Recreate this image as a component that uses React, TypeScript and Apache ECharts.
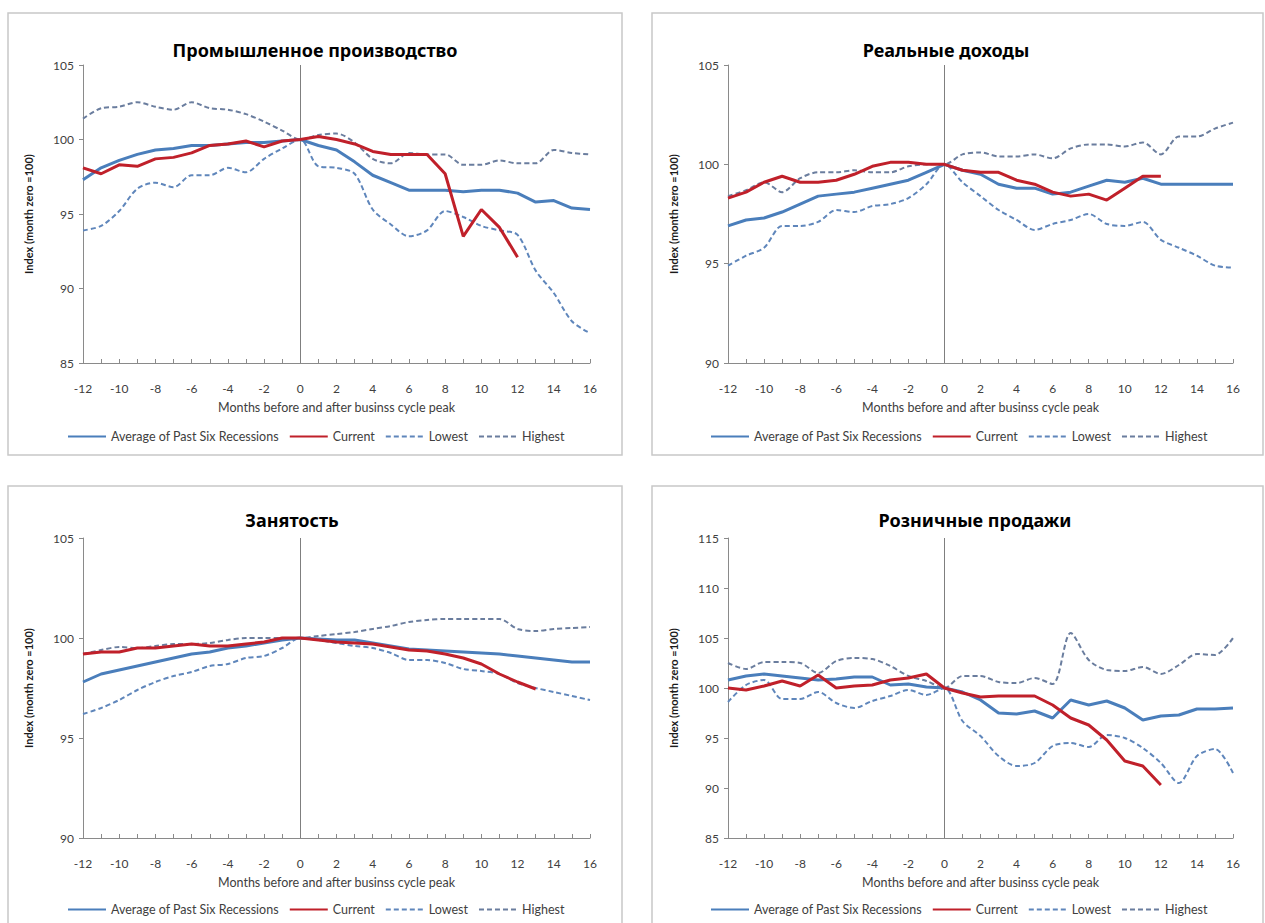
import React, { useEffect, useRef } from "react";
import * as echarts from "echarts";

// ---- Data ----
const months = [-12, -11, -10, -9, -8, -7, -6, -5, -4, -3, -2, -1, 0, 1, 2, 3, 4, 5, 6, 7, 8, 9, 10, 11, 12, 13, 14, 15, 16];
const seriesNames = ["Average of Past Six Recessions", "Current", "Lowest", "Highest"];
const xTicks = { min: -12, max: 16, step: 2 };
const xAxisName = "Months before and after businss cycle peak";
const yAxisName = "Index (month zero =100)";

// Промышленное производство
const ipAvg = [97.3, 98.1, 98.6, 99.0, 99.3, 99.4, 99.6, 99.6, 99.7, 99.8, 99.8, 99.9, 100, 99.6, 99.3, 98.5, 97.6, 97.1, 96.6, 96.6, 96.6, 96.5, 96.6, 96.6, 96.4, 95.8, 95.9, 95.4, 95.3];
const ipCur = [98.1, 97.7, 98.3, 98.2, 98.7, 98.8, 99.1, 99.6, 99.7, 99.9, 99.5, 99.9, 100, 100.2, 100.0, 99.7, 99.2, 99.0, 99.0, 99.0, 97.7, 93.5, 95.3, 94.1, 92.1];
const ipLow = [93.9, 94.2, 95.2, 96.7, 97.1, 96.8, 97.6, 97.6, 98.1, 97.8, 98.7, 99.4, 100, 98.2, 98.1, 97.7, 95.3, 94.3, 93.5, 93.9, 95.2, 94.8, 94.2, 93.9, 93.6, 91.2, 89.7, 87.8, 87.0];
const ipHigh = [101.4, 102.1, 102.2, 102.5, 102.2, 102.0, 102.5, 102.1, 102.0, 101.7, 101.2, 100.6, 100, 100.3, 100.4, 99.8, 98.7, 98.4, 99.1, 99.0, 99.0, 98.3, 98.3, 98.6, 98.4, 98.4, 99.3, 99.1, 99.0];

// Реальные доходы
const incAvg = [96.9, 97.2, 97.3, 97.6, 98.0, 98.4, 98.5, 98.6, 98.8, 99.0, 99.2, 99.6, 100, 99.7, 99.5, 99.0, 98.8, 98.8, 98.5, 98.6, 98.9, 99.2, 99.1, 99.3, 99.0, 99.0, 99.0, 99.0, 99.0];
const incCur = [98.3, 98.6, 99.1, 99.4, 99.1, 99.1, 99.2, 99.5, 99.9, 100.1, 100.1, 100.0, 100, 99.7, 99.6, 99.6, 99.2, 99.0, 98.6, 98.4, 98.5, 98.2, 98.8, 99.4, 99.4];
const incLow = [94.9, 95.4, 95.8, 96.9, 96.9, 97.1, 97.7, 97.6, 97.9, 98.0, 98.3, 99.0, 100, 99.1, 98.4, 97.7, 97.2, 96.7, 97.0, 97.2, 97.5, 97.0, 96.9, 97.1, 96.2, 95.8, 95.4, 94.9, 94.8];
const incHigh = [98.4, 98.7, 99.1, 98.6, 99.3, 99.6, 99.6, 99.7, 99.6, 99.6, 99.9, 100.0, 100, 100.5, 100.6, 100.4, 100.4, 100.5, 100.3, 100.8, 101.0, 101.0, 100.9, 101.1, 100.5, 101.4, 101.4, 101.8, 102.1];

// Занятость
const empAvg = [97.8, 98.2, 98.4, 98.6, 98.8, 99.0, 99.2, 99.3, 99.5, 99.6, 99.75, 99.9, 100, 99.95, 99.9, 99.9, 99.75, 99.6, 99.45, 99.4, 99.35, 99.3, 99.25, 99.2, 99.1, 99.0, 98.9, 98.8, 98.8];
const empCur = [99.2, 99.3, 99.3, 99.5, 99.5, 99.6, 99.7, 99.6, 99.6, 99.7, 99.8, 100.0, 100, 99.9, 99.8, 99.75, 99.7, 99.55, 99.4, 99.35, 99.2, 99.0, 98.7, 98.2, 97.8, 97.45];
const empLow = [96.2, 96.5, 96.9, 97.4, 97.8, 98.1, 98.3, 98.6, 98.7, 99.0, 99.1, 99.5, 100, 99.9, 99.75, 99.6, 99.5, 99.25, 98.9, 98.9, 98.75, 98.45, 98.35, 98.2, 97.75, 97.5, 97.3, 97.1, 96.9];
const empHigh = [99.2, 99.4, 99.55, 99.5, 99.6, 99.7, 99.7, 99.75, 99.9, 100.0, 100.0, 100.0, 100, 100.1, 100.2, 100.3, 100.45, 100.6, 100.8, 100.9, 100.95, 100.95, 100.95, 100.95, 100.45, 100.35, 100.45, 100.5, 100.55];

// Розничные продажи
const rtAvg = [100.8, 101.2, 101.4, 101.2, 101.0, 100.8, 100.9, 101.1, 101.1, 100.3, 100.4, 100.1, 100, 99.6, 98.8, 97.5, 97.4, 97.7, 97.0, 98.8, 98.3, 98.7, 98.0, 96.8, 97.2, 97.3, 97.9, 97.9, 98.0];
const rtCur = [100.0, 99.8, 100.2, 100.7, 100.2, 101.3, 100.0, 100.2, 100.3, 100.8, 101.0, 101.4, 100, 99.5, 99.1, 99.2, 99.2, 99.2, 98.3, 97.0, 96.3, 94.8, 92.7, 92.2, 90.3];
const rtLow = [98.6, 100.3, 100.8, 98.9, 98.9, 99.6, 98.5, 98.0, 98.7, 99.2, 99.8, 99.3, 100, 96.7, 95.2, 93.2, 92.2, 92.5, 94.2, 94.5, 94.1, 95.3, 95.0, 94.0, 92.5, 90.5, 93.2, 93.9, 91.5];
const rtHigh = [102.5, 101.9, 102.6, 102.6, 102.5, 101.5, 102.7, 103.0, 102.9, 102.2, 101.2, 100.7, 100, 101.2, 101.2, 100.6, 100.5, 101.0, 100.4, 105.5, 102.8, 101.8, 101.7, 102.1, 101.4, 102.3, 103.4, 103.3, 105.0];

const titles = ["Промышленное производство", "Реальные доходы", "Занятость", "Розничные продажи"];
const yRanges = [
  [85, 105],
  [90, 105],
  [90, 105],
  [85, 115],
];
const panelData = [
  [ipAvg, ipCur, ipLow, ipHigh],
  [incAvg, incCur, incLow, incHigh],
  [empAvg, empCur, empLow, empHigh],
  [rtAvg, rtCur, rtLow, rtHigh],
];

// ---- Layout ----
const layout = [
  { grid: { left: 83, top: 65, width: 507, height: 298 }, title: [315, 50], legend: [62, 425], box: [8, 13, 614, 442] },
  { grid: { left: 728, top: 65, width: 505, height: 298 }, title: [946, 50], legend: [705, 425], box: [652, 13, 611, 442] },
  { grid: { left: 83, top: 538, width: 507, height: 300 }, title: [292, 520], legend: [62, 898], box: [8, 486, 614, 450] },
  { grid: { left: 728, top: 538, width: 505, height: 300 }, title: [975, 520], legend: [705, 898], box: [652, 486, 611, 450] },
];

const colors = ["#4a7ebb", "#c0202a", "#5f86bb", "#6a7d9e"];
const latin = "Lato, 'Open Sans', sans-serif";
const axisColor = "#8a8a8a";
const textColor = "#404040";

function buildOption() {
  const grid = layout.map((l) => ({ ...l.grid }));
  const xAxis = layout.map((l, i) => ({
    type: "value",
    gridIndex: i,
    min: xTicks.min,
    max: xTicks.max,
    interval: xTicks.step,
    name: xAxisName,
    nameLocation: "middle",
    nameGap: 38,
    nameTextStyle: { fontFamily: latin, fontSize: 12.5, color: textColor },
    axisLine: { show: true, onZero: false, lineStyle: { color: axisColor, width: 1 } },
    axisTick: { show: true, inside: true, length: 4, lineStyle: { color: axisColor } },
    minorTick: { show: true, splitNumber: 2, length: 4, lineStyle: { color: axisColor } },
    axisLabel: { margin: 19, fontFamily: latin, fontSize: 12, color: textColor },
    splitLine: { show: false },
    minorSplitLine: { show: false },
  }));
  const yAxis = layout.map((l, i) => ({
    type: "value",
    gridIndex: i,
    min: yRanges[i][0],
    max: yRanges[i][1],
    interval: 5,
    name: yAxisName,
    nameLocation: "middle",
    nameGap: 49,
    nameTextStyle: { fontFamily: latin, fontSize: 11, fontWeight: "bold", color: "#1a1a1a" },
    axisLine: { show: true, onZero: false, lineStyle: { color: axisColor, width: 1 } },
    axisTick: { show: true, length: 4, lineStyle: { color: axisColor } },
    axisLabel: { margin: 9, fontFamily: latin, fontSize: 12, color: textColor },
    splitLine: { show: false },
  }));
  const series: any[] = [];
  panelData.forEach((arrs, i) => {
    arrs.forEach((arr, k) => {
      const dashed = k >= 2;
      const s: any = {
        name: seriesNames[k],
        type: "line",
        xAxisIndex: i,
        yAxisIndex: i,
        data: arr.map((v, j) => [months[j], v]),
        symbol: "none",
        showSymbol: false,
        smooth: dashed ? 0.3 : false,
        z: k === 1 ? 5 : k === 0 ? 4 : 3,
        lineStyle: {
          color: colors[k],
          width: dashed ? 2 : 3,
          type: dashed ? [5, 3] : "solid",
        },
        itemStyle: { color: colors[k] },
      };
      if (k === 0) {
        s.markLine = {
          silent: true,
          symbol: ["none", "none"],
          label: { show: false },
          lineStyle: { color: "#7f7f7f", width: 1, type: "solid" },
          data: [{ xAxis: 0 }],
        };
      }
      series.push(s);
    });
  });
  const legend = layout.map((l) => ({
    data: seriesNames,
    left: l.legend[0],
    top: l.legend[1],
    itemWidth: 38,
    itemHeight: 12,
    itemGap: 10,
    selectedMode: false,
    itemStyle: { opacity: 0 },
    textStyle: { fontFamily: latin, fontSize: 12.5, color: textColor },
  }));
  const graphic: any[] = [];
  layout.forEach((l, i) => {
    graphic.push({
      type: "rect",
      shape: { x: l.box[0], y: l.box[1], width: l.box[2], height: l.box[3] },
      style: { fill: "none", stroke: "#c8c8c8", lineWidth: 1.5 },
      silent: true,
      z: -10,
    });
    graphic.push({
      type: "text",
      x: l.title[0],
      y: l.title[1],
      style: {
        text: titles[i],
        font: "bold 18px 'Noto Sans', 'DejaVu Sans', sans-serif",
        fill: "#000",
        textAlign: "center",
        textVerticalAlign: "middle",
        align: "center",
        verticalAlign: "middle",
      },
      silent: true,
    });
  });
  return { animation: false, backgroundColor: "#ffffff", grid, xAxis, yAxis, series, legend, graphic };
}

export default function App() {
  const ref = useRef<HTMLDivElement>(null);
  useEffect(() => {
    if (!ref.current) return;
    const chart = echarts.init(ref.current, undefined, { renderer: "svg" });
    chart.setOption(buildOption() as any);
    return () => chart.dispose();
  }, []);
  return (
    <div
      ref={ref}
      style={{ position: "absolute", left: 0, top: 0, width: 1265, height: 923, overflow: "hidden", background: "#fff" }}
    />
  );
}
